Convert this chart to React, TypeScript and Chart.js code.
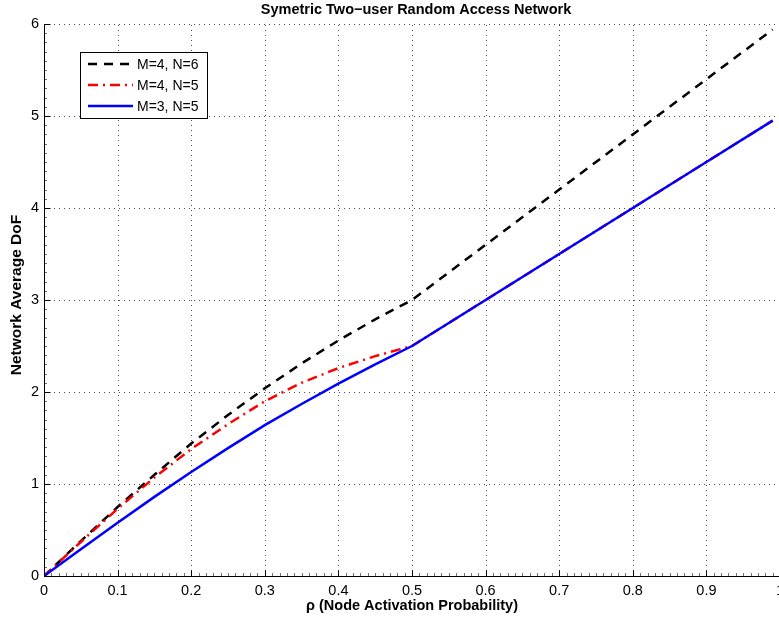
import { useEffect, useRef } from 'react';
import { Chart, registerables } from 'chart.js';
Chart.register(...registerables);

const rho = [0, 0.05, 0.1, 0.15, 0.2, 0.25, 0.3, 0.35, 0.4, 0.45, 0.5, 0.6, 0.7, 0.8, 0.9, 0.99];
const dofM4N6 = [0, 0.38, 0.75, 1.1, 1.44, 1.75, 2.04, 2.31, 2.56, 2.79, 3.0, 3.6, 4.2, 4.8, 5.4, 5.94];
const dofM4N5 = [0, 0.37, 0.73, 1.07, 1.38, 1.65, 1.9, 2.1, 2.26, 2.39, 2.5, 3.0, 3.5, 4.0, 4.5, 4.95];
const dofM3N5 = [0, 0.29, 0.58, 0.86, 1.13, 1.39, 1.64, 1.87, 2.09, 2.3, 2.5, 3.0, 3.5, 4.0, 4.5, 4.95];

const seriesLabels = ['M=4, N=6', 'M=4, N=5', 'M=3, N=5'];
const seriesColors = ['#000000', '#ff0000', '#0000ff'];
const seriesDashes = [[9, 7], [10, 5, 2, 5], []];

const titleText = 'Symetric Two\u2212user Random Access Network';
const xLabel = '\u03c1 (Node Activation Probability)';
const yLabel = 'Network Average DoF';

const FONT = '"Liberation Sans", Arial, Helvetica, sans-serif';

export default function App() {
  const ref = useRef<HTMLCanvasElement>(null);
  useEffect(() => {
    const canvas = ref.current!;
    const plugin = {
      id: 'matlabLook',
      beforeDatasetsDraw(chart: any) {
        const ctx = chart.ctx;
        const xs = chart.scales.x;
        const ys = chart.scales.y;
        const a = chart.chartArea;
        ctx.save();
        ctx.strokeStyle = 'rgba(0,0,0,0.7)';
        ctx.lineWidth = 1;
        ctx.setLineDash([1, 4]);
        for (let i = 1; i <= 10; i++) {
          const px = Math.round(xs.getPixelForValue(i / 10)) + 0.5;
          ctx.beginPath();
          ctx.moveTo(px, a.bottom);
          ctx.lineTo(px, a.top);
          ctx.stroke();
        }
        for (let j = 1; j <= 6; j++) {
          const py = Math.round(ys.getPixelForValue(j)) + 0.5;
          ctx.beginPath();
          ctx.moveTo(a.left, py);
          ctx.lineTo(a.right, py);
          ctx.stroke();
        }
        ctx.restore();
      },
      afterDatasetsDraw(chart: any) {
        const ctx = chart.ctx;
        const xs = chart.scales.x;
        const ys = chart.scales.y;
        const a = chart.chartArea;
        ctx.save();
        ctx.setLineDash([]);
        // minor ticks
        ctx.strokeStyle = 'rgba(0,0,0,0.55)';
        ctx.lineWidth = 1;
        for (let i = 1; i < 100; i++) {
          if (i % 10 === 0) continue;
          const px = Math.round(xs.getPixelForValue(i / 100)) + 0.5;
          ctx.beginPath();
          ctx.moveTo(px, a.bottom);
          ctx.lineTo(px, a.bottom - 3);
          ctx.stroke();
        }
        for (let j = 1; j < 60; j++) {
          if (j % 10 === 0) continue;
          const py = Math.round(ys.getPixelForValue(j / 10)) + 0.5;
          ctx.beginPath();
          ctx.moveTo(a.left, py);
          ctx.lineTo(a.left + 3, py);
          ctx.stroke();
        }
        // axes
        ctx.strokeStyle = '#000';
        ctx.lineWidth = 1;
        const lx = Math.round(a.left) + 0.5;
        const by = Math.round(a.bottom) + 0.5;
        ctx.beginPath();
        ctx.moveTo(lx, a.top);
        ctx.lineTo(lx, by);
        ctx.lineTo(a.right, by);
        ctx.stroke();
        // major ticks
        for (let i = 0; i <= 10; i++) {
          const px = Math.round(xs.getPixelForValue(i / 10)) + 0.5;
          ctx.beginPath();
          ctx.moveTo(px, by);
          ctx.lineTo(px, by - 6);
          ctx.stroke();
        }
        for (let j = 0; j <= 6; j++) {
          const py = Math.round(ys.getPixelForValue(j)) + 0.5;
          ctx.beginPath();
          ctx.moveTo(lx, py);
          ctx.lineTo(lx + 6, py);
          ctx.stroke();
        }
        ctx.restore();
      },
      afterDraw(chart: any) {
        const ctx = chart.ctx;
        const a = chart.chartArea;
        ctx.save();
        ctx.fillStyle = '#000';
        ctx.textAlign = 'center';
        ctx.textBaseline = 'middle';
        ctx.font = 'bold 14.5px ' + FONT;
        ctx.fillText(titleText, (a.left + a.right) / 2 + 4, 10);
        ctx.fillText(xLabel, (a.left + a.right) / 2, 606);
        ctx.save();
        ctx.translate(17, (a.top + a.bottom) / 2 - 5);
        ctx.rotate(-Math.PI / 2);
        ctx.font = 'bold 15.5px ' + FONT;
        ctx.fillText(yLabel, 0, 0);
        ctx.restore();

        // legend
        const bx = 80.5, byy = 52.5, bw = 127, bh = 66;
        ctx.fillStyle = '#fff';
        ctx.fillRect(bx, byy, bw, bh);
        ctx.strokeStyle = '#000';
        ctx.lineWidth = 1;
        ctx.setLineDash([]);
        ctx.strokeRect(bx, byy, bw, bh);
        const ds = chart.data.datasets;
        ds.forEach((d: any, k: number) => {
          const yy = 64 + k * 21;
          ctx.strokeStyle = d.borderColor;
          ctx.lineWidth = d.borderWidth;
          ctx.setLineDash(d.borderDash || []);
          ctx.beginPath();
          ctx.moveTo(88, yy);
          ctx.lineTo(133, yy);
          ctx.stroke();
          ctx.setLineDash([]);
          ctx.fillStyle = '#000';
          ctx.textAlign = 'left';
          ctx.font = '14px ' + FONT;
          ctx.fillText(d.label, 137, yy + 1);
        });
        ctx.restore();
      },
    };

    const series = [dofM4N6, dofM4N5, dofM3N5];
    const chart = new Chart(canvas, {
      type: 'line',
      data: {
        datasets: series.map((vals, k) => ({
          label: seriesLabels[k],
          data: rho.map((r, i) => ({ x: r, y: vals[i] })),
          borderColor: seriesColors[k],
          backgroundColor: seriesColors[k],
          borderWidth: 2.5,
          borderDash: seriesDashes[k],
          pointRadius: 0,
          tension: 0,
          fill: false,
          order: 3 - k,
        })),
      },
      options: {
        responsive: false,
        animation: false,
        devicePixelRatio: 1,
        layout: { padding: { top: 24, right: 20, left: 0, bottom: 0 } },
        plugins: {
          legend: { display: false },
          title: { display: false },
          tooltip: { enabled: false },
        },
        scales: {
          x: {
            type: 'linear',
            min: 0,
            max: 1,
            afterFit: (s: any) => { s.height = 44; },
            grid: { display: false, drawTicks: false },
            border: { display: false },
            ticks: {
              stepSize: 0.1,
              padding: 6,
              color: '#000',
              maxRotation: 0,
              autoSkip: false,
              font: { size: 14.5, family: FONT },
              callback: (v: any) => String(Number(Number(v).toFixed(1))),
            },
          },
          y: {
            type: 'linear',
            min: 0,
            max: 6,
            afterFit: (s: any) => { s.width = 44; },
            grid: { display: false, drawTicks: false },
            border: { display: false },
            ticks: {
              stepSize: 1,
              padding: 5,
              color: '#000',
              font: { size: 14.5, family: FONT },
            },
          },
        },
      },
      plugins: [plugin],
    } as any);
    return () => chart.destroy();
  }, []);
  return (
    <canvas
      ref={ref}
      width={800}
      height={620}
      style={{ position: 'fixed', left: 0, top: 0, width: '800px', height: '620px', background: '#fff' }}
    />
  );
}
